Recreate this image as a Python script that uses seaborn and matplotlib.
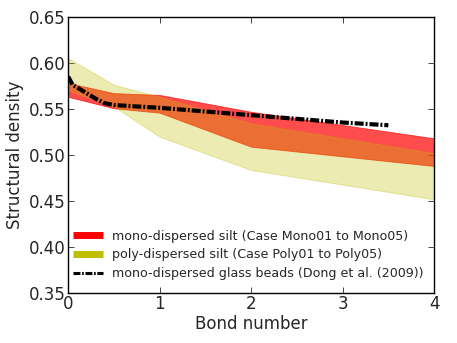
import numpy as np
import pandas as pd
import matplotlib
matplotlib.use('Agg')
import matplotlib.pyplot as plt
import seaborn as sns
from matplotlib.lines import Line2D

# Veriler
bond_band = [0.0, 0.5, 1.0, 2.0, 4.0]
mono_low = [0.563, 0.5505, 0.5457, 0.5087, 0.4877]
mono_high = [0.578, 0.567, 0.565, 0.5467, 0.5178]
poly_low = [0.570, 0.5525, 0.5196, 0.4834, 0.4515]
poly_high = [0.605, 0.576, 0.563, 0.534, 0.5015]

bond_dong = [0.0, 0.05, 0.2, 0.3, 0.4, 0.5, 1.0, 1.5, 2.0, 2.5, 3.0, 3.5]
dens_dong = [0.585, 0.576, 0.567, 0.561, 0.556, 0.554, 0.551, 0.547, 0.543, 0.539, 0.535, 0.532]

sns.set_style("ticks")
plt.rcParams['font.family'] = ['DejaVu Sans']
plt.rcParams['lines.scale_dashes'] = False

fig, ax = plt.subplots(figsize=(4.57, 3.43), dpi=100)
fig.subplots_adjust(left=0.149, right=0.95, top=0.951, bottom=0.147)

ax.fill_between(bond_band, mono_low, mono_high, color='red', alpha=0.7, linewidth=0.6)
ax.fill_between(bond_band, poly_low, poly_high, color='y', alpha=0.3, linewidth=0.8)

df = pd.DataFrame({'bond': bond_dong, 'dens': dens_dong})
sns.lineplot(data=df, x='bond', y='dens', ax=ax, color='black', linewidth=3,
             legend=False)
ax.lines[-1].set_dashes((6.5, 1.4, 1.4, 1.4))

ax.set_xlim(0, 4)
ax.set_ylim(0.35, 0.65)
ax.set_xticks([0, 1, 2, 3, 4])
ax.set_yticks(np.arange(0.35, 0.651, 0.05))
ax.set_yticklabels([f'{v:.2f}' for v in np.arange(0.35, 0.651, 0.05)])
ax.tick_params(direction='in', top=True, right=True, labelsize=12, length=4,
               width=0.6, pad=2)
for s in ax.spines.values():
    s.set_linewidth(1.0)
    s.set_color('black')

ax.set_xlabel('Bond number', fontsize=12, labelpad=1)
ax.set_ylabel('Structural density', fontsize=12, labelpad=3)

handles = [
    Line2D([0], [0], color='red', linewidth=5, solid_capstyle='butt'),
    Line2D([0], [0], color='y', linewidth=5, solid_capstyle='butt'),
    Line2D([0], [0], color='black', linewidth=2.2, dashes=(5, 1.2, 1.2, 1.2)),
]
labels = [
    'mono-dispersed silt (Case Mono01 to Mono05)',
    'poly-dispersed silt (Case Poly01 to Poly05)',
    'mono-dispersed glass beads (Dong et al. (2009))',
]
ax.legend(handles, labels, loc='lower left', bbox_to_anchor=(0.003, 0.032),
          frameon=False, fontsize=9.1, handlelength=2.4, borderaxespad=0,
          labelspacing=0.45, handletextpad=0.7, borderpad=0.3)

fig.savefig('out.png', dpi=100)
